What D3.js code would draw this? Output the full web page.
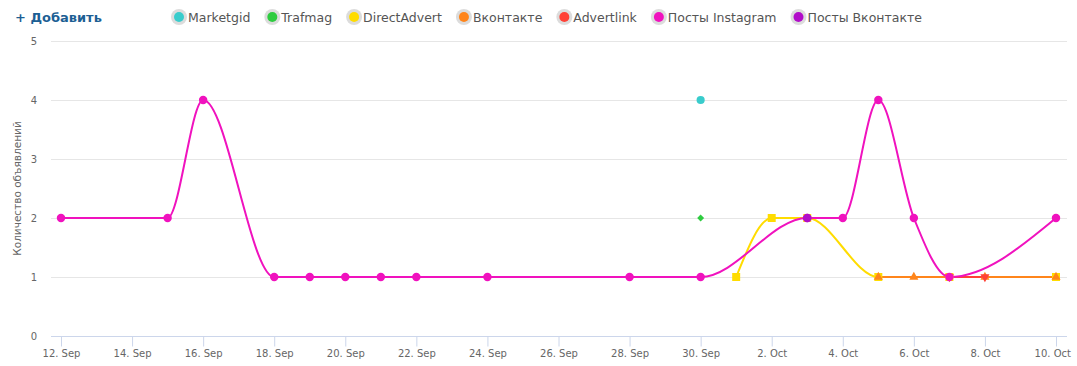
<!DOCTYPE html>
<html>
<head>
<meta charset="utf-8">
<script src="https://cdn.jsdelivr.net/npm/d3@7"></script>
<style>
  body { margin: 0; background: #fff; }
  svg { display: block; font-family: "DejaVu Sans", Verdana, sans-serif; }
</style>
</head>
<body>
<div id="chart"></div>
<script>
// data
const seriesNames = ["Marketgid", "Trafmag", "DirectAdvert", "Вконтакте", "Advertlink", "Посты Instagram", "Посты Вконтакте"];
const seriesColors = ["#39CCCC", "#2ECC40", "#FFDC00", "#FF851B", "#FF4136", "#F012BE", "#B10DC9"];

const marketgid = [["2016-09-30", 4]];
const trafmag = [["2016-09-30", 2]];
const directAdvert = [["2016-10-01", 1], ["2016-10-02", 2], ["2016-10-03", 2], ["2016-10-05", 1], ["2016-10-07", 1], ["2016-10-10", 1]];
const vkontakte = [["2016-10-05", 1], ["2016-10-06", 1], ["2016-10-08", 1], ["2016-10-10", 1]];
const advertlink = [["2016-10-07", 1], ["2016-10-08", 1]];
const postsInstagram = [
  ["2016-09-12", 2], ["2016-09-15", 2], ["2016-09-16", 4], ["2016-09-18", 1],
  ["2016-09-19", 1], ["2016-09-20", 1], ["2016-09-21", 1], ["2016-09-22", 1],
  ["2016-09-24", 1], ["2016-09-28", 1], ["2016-09-30", 1], ["2016-10-03", 2],
  ["2016-10-04", 2], ["2016-10-05", 4], ["2016-10-06", 2], ["2016-10-07", 1],
  ["2016-10-10", 2]
];
const postsVkontakte = [["2016-10-03", 2]];

const tickDates = ["2016-09-12", "2016-09-14", "2016-09-16", "2016-09-18", "2016-09-20", "2016-09-22", "2016-09-24",
  "2016-09-26", "2016-09-28", "2016-09-30", "2016-10-02", "2016-10-04", "2016-10-06", "2016-10-08", "2016-10-10"];
const yTicks = [0, 1, 2, 3, 4, 5];

const yTitle = "Количество объявлений";
const xTitle = "Дата";
const addLabel = "+ Добавить";

////////////////////////////////////////////////////////////////////
// svg
const width = 1077, height = 366;
const plotLeft = 51, plotRight = 1067;

const svg = d3.select("#chart").append("svg").attr("width", width).attr("height", height);

const parse = d3.timeParse("%Y-%m-%d");
const fmt = d3.timeFormat("%-d. %b");

const allSeries = [marketgid, trafmag, directAdvert, vkontakte, advertlink, postsInstagram, postsVkontakte]
  .map((s, i) => ({
    name: seriesNames[i],
    color: seriesColors[i],
    values: s.map(d => ({ date: parse(d[0]), value: d[1] }))
  }));

// scale
const x = d3.scaleTime()
  .domain([parse(tickDates[0]), parse(tickDates[tickDates.length - 1])])
  .range([61, 1056]);
const y = d3.scaleLinear().domain([0, 5]).range([336, 41]);

// grid
svg.append("g")
  .selectAll("line")
  .data(yTicks.filter(d => d > 0))
  .join("line")
  .attr("x1", plotLeft).attr("x2", plotRight)
  .attr("y1", d => y(d) + 0.5).attr("y2", d => y(d) + 0.5)
  .attr("stroke", "#e6e6e6");

// y labels
svg.append("g")
  .selectAll("text")
  .data(yTicks)
  .join("text")
  .attr("x", 37).attr("y", d => y(d) + 4)
  .attr("text-anchor", "end")
  .attr("font-size", 10)
  .attr("fill", "#666")
  .text(d => d);

svg.append("text")
  .attr("transform", `translate(21, ${(y(0) + y(5)) / 2}) rotate(-90)`)
  .attr("text-anchor", "middle")
  .attr("font-size", 10.5)
  .attr("fill", "#666")
  .text(yTitle);

// x axis
const xAxis = d3.axisBottom(x)
  .tickValues(tickDates.map(parse))
  .tickFormat(fmt)
  .tickSize(10)
  .tickSizeOuter(0);

const xg = svg.append("g").attr("transform", `translate(0, ${y(0) + 0.5})`).call(xAxis);
xg.select(".domain").remove();
xg.insert("line", ":first-child")
  .attr("x1", plotLeft).attr("x2", plotRight)
  .attr("stroke", "#ccd6eb");
xg.selectAll(".tick line").attr("stroke", "#ccd6eb");
xg.selectAll(".tick text")
  .attr("y", 13)
  .attr("font-family", "DejaVu Sans, sans-serif")
  .attr("font-size", 10)
  .attr("fill", "#666")
  .each(function () {
    const b = this.getBBox();
    const tx = d3.select(this.parentNode).attr("transform");
    const cx = +tx.match(/translate\(([\d.]+)/)[1];
    const over = cx + b.x + b.width - 1071;
    if (over > 0) d3.select(this).attr("dx", -over);
  });

// axis title, cut by the bottom edge as in the original
svg.append("text")
  .attr("x", (plotLeft + plotRight) / 2)
  .attr("y", 375)
  .attr("text-anchor", "middle")
  .attr("font-size", 12)
  .attr("fill", "#666")
  .text(xTitle);

// lines
const line = d3.line()
  .x(d => x(d.date))
  .y(d => y(d.value))
  .curve(d3.curveMonotoneX);

svg.append("g")
  .selectAll("path")
  .data(allSeries.filter(s => s.values.length > 1))
  .join("path")
  .attr("d", d => line(d.values))
  .attr("fill", "none")
  .attr("stroke", d => d.color)
  .attr("stroke-width", 2);

// markers
const symbols = [
  { type: d3.symbolCircle, size: 52, rot: 0 },
  { type: d3.symbolSquare, size: 24, rot: 45 },
  { type: d3.symbolSquare, size: 64, rot: 0 },
  { type: d3.symbolTriangle, size: 36, rot: 0 },
  { type: d3.symbolTriangle, size: 36, rot: 180 },
  { type: d3.symbolCircle, size: 56, rot: 0 },
  { type: d3.symbolCircle, size: 60, rot: 0 }
];

allSeries.forEach((s, i) => {
  const sym = d3.symbol().type(symbols[i].type).size(symbols[i].size);
  svg.append("g")
    .selectAll("path")
    .data(s.values)
    .join("path")
    .attr("d", sym)
    .attr("transform", d => `translate(${x(d.date)}, ${y(d.value)}) rotate(${symbols[i].rot})`)
    .attr("fill", s.color);
});

// legend
svg.append("text")
  .attr("x", 15).attr("y", 22)
  .attr("font-size", 13)
  .attr("font-weight", "bold")
  .attr("fill", "#1d5f94")
  .text(addLabel);

let lx = 179;
allSeries.forEach(s => {
  const item = svg.append("g").attr("transform", `translate(${lx}, 17)`);
  item.append("circle").attr("r", 8).attr("fill", "#dcdcdc");
  item.append("circle").attr("r", 5).attr("fill", s.color);
  const t = item.append("text")
    .attr("x", 9).attr("y", 5)
    .attr("font-size", 12.5)
    .attr("fill", "#555")
    .text(s.name);
  lx += 9 + t.node().getComputedTextLength() + 22;
});
</script>
</body>
</html>
